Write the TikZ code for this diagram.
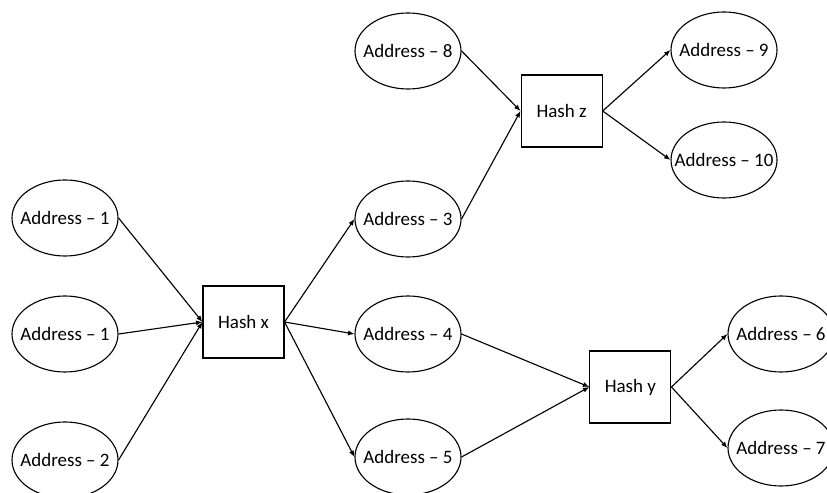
\documentclass[tikz,border=0pt]{standalone}
\usepackage{fontspec}
\setmainfont{Carlito}
\usetikzlibrary{arrows.meta, shapes.geometric}

\newcommand{\addrlabel}[1]{\makebox[0pt]{#1}}

\begin{document}
\begin{tikzpicture}[
    addr/.style={draw, ellipse, line width=0.8pt, minimum width=2.65cm, minimum height=1.9cm, inner sep=0pt, font=\fontsize{13.5}{15}\selectfont},
    hashbox/.style={draw, rectangle, line width=0.8pt, minimum width=2.025cm, minimum height=1.8cm, font=\fontsize{13.5}{15}\selectfont},
    link/.style={line width=0.8pt, -{Latex[length=1.6mm, width=1.3mm]}}
]
\useasboundingbox (0,0) rectangle (20.675,12.3);
%---------------------------------------------------
\node[addr] (a1a) at (1.625,6.85) {\addrlabel{Address -- 1}};
\node[addr] (a1b) at (1.625,3.95) {\addrlabel{Address -- 1}};
\node[addr] (a2)  at (1.625,0.8)  {\addrlabel{Address -- 2}};
\node[hashbox] (hx) at (6.0875,4.25) {Hash x};
%---------------------------------------------------
\node[addr] (a8) at (10.2,11.025) {\addrlabel{Address -- 8}};
\node[addr] (a3) at (10.2,6.825)  {\addrlabel{Address -- 3}};
\node[addr] (a4) at (10.2,3.95)   {\addrlabel{Address -- 4}};
\node[addr] (a5) at (10.2,0.875)  {\addrlabel{Address -- 5}};
%---------------------------------------------------
\node[hashbox] (hz) at (14.04,9.525) {Hash z};
\node[addr] (a9)  at (18.1,11.05) {\addrlabel{Address -- 9}};
\node[addr] (a10) at (18.1,8.3)   {\addrlabel{Address -- 10}};
%---------------------------------------------------
\node[hashbox] (hy) at (15.76,2.625) {Hash y};
\node[addr] (a6) at (19.525,3.95) {\addrlabel{Address -- 6}};
\node[addr] (a7) at (19.525,1.1)  {\addrlabel{Address -- 7}};
%---------------------------------------------------
\draw[link] (a1a.east) -- (hx.west);
\draw[link] (a1b.east) -- (hx.west);
\draw[link] (a2.east) -- (hx.west);
\draw[link] (hx.east) -- (a3.west);
\draw[link] (hx.east) -- (a4.west);
\draw[link] (hx.east) -- (a5.west);
%---------------------------------------------------
\draw[link] (a8.east) -- (hz.west);
\draw[link] (a3.east) -- (hz.west);
\draw[link] (hz.east) -- (a9.west);
\draw[link] (hz.east) -- (a10.west);
%---------------------------------------------------
\draw[link] (a4.east) -- (hy.west);
\draw[link] (a5.east) -- (hy.west);
\draw[link] (hy.east) -- (a6.west);
\draw[link] (hy.east) -- (a7.west);
\end{tikzpicture}
\end{document}
